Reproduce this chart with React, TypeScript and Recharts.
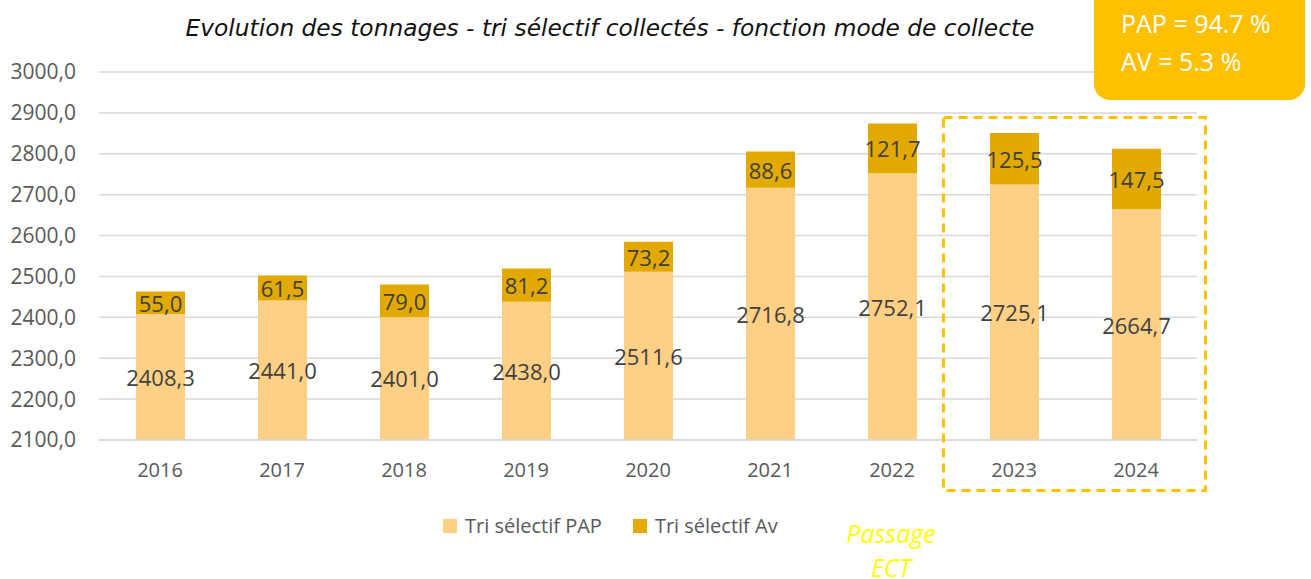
import React from 'react';
import { BarChart, Bar, XAxis, YAxis, CartesianGrid, LabelList } from 'recharts';

const YEARS = ['2016', '2017', '2018', '2019', '2020', '2021', '2022', '2023', '2024'];
const PAP = [2408.3, 2441.0, 2401.0, 2438.0, 2511.6, 2716.8, 2752.1, 2725.1, 2664.7];
const AV = [55.0, 61.5, 79.0, 81.2, 73.2, 88.6, 121.7, 125.5, 147.5];
const Y_TICKS = [2100, 2200, 2300, 2400, 2500, 2600, 2700, 2800, 2900, 3000];

const SERIES = [
  { key: 'pap', name: 'Tri sélectif PAP', color: '#FED085' },
  { key: 'av', name: 'Tri sélectif Av', color: '#E2A900' },
];

const W = 1311;
const H = 579;
const MARGIN = { top: 72, right: 114, bottom: 0, left: 0 };
const X_AXIS_H = 139;
const PLOT_BOTTOM = H - MARGIN.bottom - X_AXIS_H;
const FONT = '"Open Sans", sans-serif';

const data = YEARS.map((year, i) => ({ year, pap: PAP[i], av: AV[i] }));

const fmt = (v: number) => Number(v).toFixed(1).replace('.', ',');

// centre the label on the visible part of the segment (the axis starts at 2100)
const renderLabel = (props: any) => {
  const { x, y, width, height, value } = props;
  const top = Number(y);
  const bottom = Math.min(top + Number(height), PLOT_BOTTOM);
  return (
    <text
      x={Number(x) + Number(width) / 2}
      y={(top + bottom) / 2}
      textAnchor="middle"
      dominantBaseline="central"
      fill="#404040"
      fontSize={22}
      fontFamily={FONT}
    >
      {fmt(value)}
    </text>
  );
};

export default function App() {
  return (
    <div style={{ position: 'absolute', left: 0, top: 0, width: W, height: H, overflow: 'hidden', background: '#fff', fontFamily: FONT }}>
      <div style={{ position: 'absolute', left: 0, width: 1220, top: 14, textAlign: 'center', fontStyle: 'italic', fontSize: 23.3, color: '#111', whiteSpace: 'nowrap', fontFamily: '"DejaVu Sans", sans-serif' }}>
        Evolution des tonnages - tri sélectif collectés - fonction mode de collecte
      </div>

      <BarChart width={W} height={H} data={data} margin={MARGIN} barSize={49} style={{ fontFamily: FONT }}>
        <CartesianGrid vertical={false} stroke="#D9D9D9" strokeWidth={1.5} />
        <XAxis
          dataKey="year"
          height={X_AXIS_H}
          axisLine={{ stroke: '#D9D9D9', strokeWidth: 1.5 }}
          tickLine={false}
          tick={{ fill: '#595959', fontSize: 20 }}
          tickMargin={17}
        />
        <YAxis
          width={99}
          domain={[2100, 3000]}
          ticks={Y_TICKS}
          allowDataOverflow
          axisLine={false}
          tickLine={false}
          tick={{ fill: '#595959', fontSize: 21 }}
          tickFormatter={fmt}
          tickMargin={17}
        />
        {SERIES.map(s => (
          <Bar key={s.key} dataKey={s.key} name={s.name} stackId="a" fill={s.color} isAnimationActive={false}>
            <LabelList dataKey={s.key} content={renderLabel} />
          </Bar>
        ))}
      </BarChart>

      <svg style={{ position: 'absolute', left: 0, top: 0 }} width={W} height={H}>
        <rect x={943.5} y={117.5} width={262} height={373} fill="none" stroke="#FFC000" strokeWidth={3} strokeDasharray="9 6" />
      </svg>

      <div style={{ position: 'absolute', left: 1094, top: -20, width: 211, height: 120, background: '#FFC000', borderRadius: 16, color: '#fff', fontSize: 25, boxSizing: 'border-box', paddingLeft: 27, paddingTop: 24, lineHeight: '38px', whiteSpace: 'nowrap' }}>
        <div>PAP = 94.7 %</div>
        <div>AV = 5.3 %</div>
      </div>

      <div style={{ position: 'absolute', left: 443, top: 512, display: 'flex', alignItems: 'center', fontSize: 20, color: '#595959', whiteSpace: 'nowrap' }}>
        {SERIES.map(s => (
          <div key={s.key} style={{ display: 'flex', alignItems: 'center', marginRight: 31 }}>
            <span style={{ display: 'inline-block', width: 14, height: 14, background: s.color, marginRight: 8 }} />
            <span>{s.name}</span>
          </div>
        ))}
      </div>

      <div style={{ position: 'absolute', left: 820, width: 142, top: 516, textAlign: 'center', fontStyle: 'italic', fontSize: 25, color: '#FFFF00', lineHeight: '34px' }}>
        Passage<br />ECT
      </div>
    </div>
  );
}
